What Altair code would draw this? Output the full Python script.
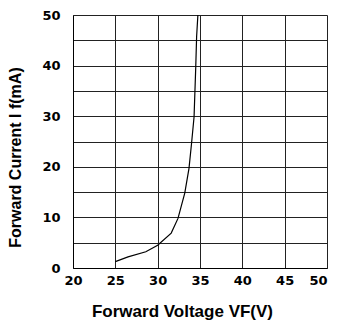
import altair as alt
import pandas as pd

voltage = [25.0, 26.5, 28.6, 30.0, 31.6, 32.4, 33.2, 33.7, 34.0, 34.3, 34.5, 34.6, 34.75]
current = [1.25, 2.2, 3.2, 4.5, 6.9, 9.8, 14.8, 19.7, 24.6, 29.9, 39.8, 45.7, 50.0]
x_ticks = [20, 25, 30, 35, 40, 45, 50]
y_ticks = [0, 5, 10, 15, 20, 25, 30, 35, 40, 45, 50]

df = pd.DataFrame({"V": voltage, "I": current})

LABEL_FONT = "DejaVu Sans"
TITLE_FONT = "Liberation Sans"

line = alt.Chart(df).mark_line(color="black", strokeWidth=1.2).encode(
    x=alt.X("V:Q", scale=alt.Scale(domain=[20, 50], nice=False),
            axis=alt.Axis(values=x_ticks, title="Forward Voltage VF(V)", grid=True,
                          gridColor="#222", gridOpacity=1, gridWidth=1,
                          domainColor="black", ticks=False, labelPadding=6,
                          labelAlign={"condition": {"test": "datum.value == 50", "value": "right"}, "value": "center"},
                          labelFont=LABEL_FONT, labelFontSize=13, labelFontWeight="bold",
                          labelColor="black", titleFont=TITLE_FONT, titleFontSize=17,
                          titleFontWeight="bold", titleColor="black",
                          titleX=109, titleY=43, titleBaseline="middle", titleAnchor="middle",
                          labelFlush=False)),
    y=alt.Y("I:Q", scale=alt.Scale(domain=[0, 50], nice=False),
            axis=alt.Axis(values=y_ticks, title="Forward Current  I f(mA)", grid=True,
                          gridColor="#222", gridOpacity=1, gridWidth=1,
                          domainColor="black", ticks=False, labelPadding=13,
                          labelExpr="datum.value % 10 == 0 ? datum.label : ''",
                          labelFont=LABEL_FONT, labelFontSize=13, labelFontWeight="bold",
                          labelColor="black", titleFont=TITLE_FONT, titleFontSize=16,
                          titleFontWeight="bold", titleColor="black",
                          titleX=-58, titleY=142, titleBaseline="middle", titleAnchor="middle",
                          labelFlush=False)),
)

chart = line.properties(
    width=254, height=253,
    autosize=alt.AutoSizeParams(type="none"),
    padding={"left": 65, "top": 7, "right": 6, "bottom": 54},
).configure_view(stroke="black", strokeWidth=1.2).configure(background="white")

chart.save("out.html", embed_options={"renderer": "svg", "actions": False})
